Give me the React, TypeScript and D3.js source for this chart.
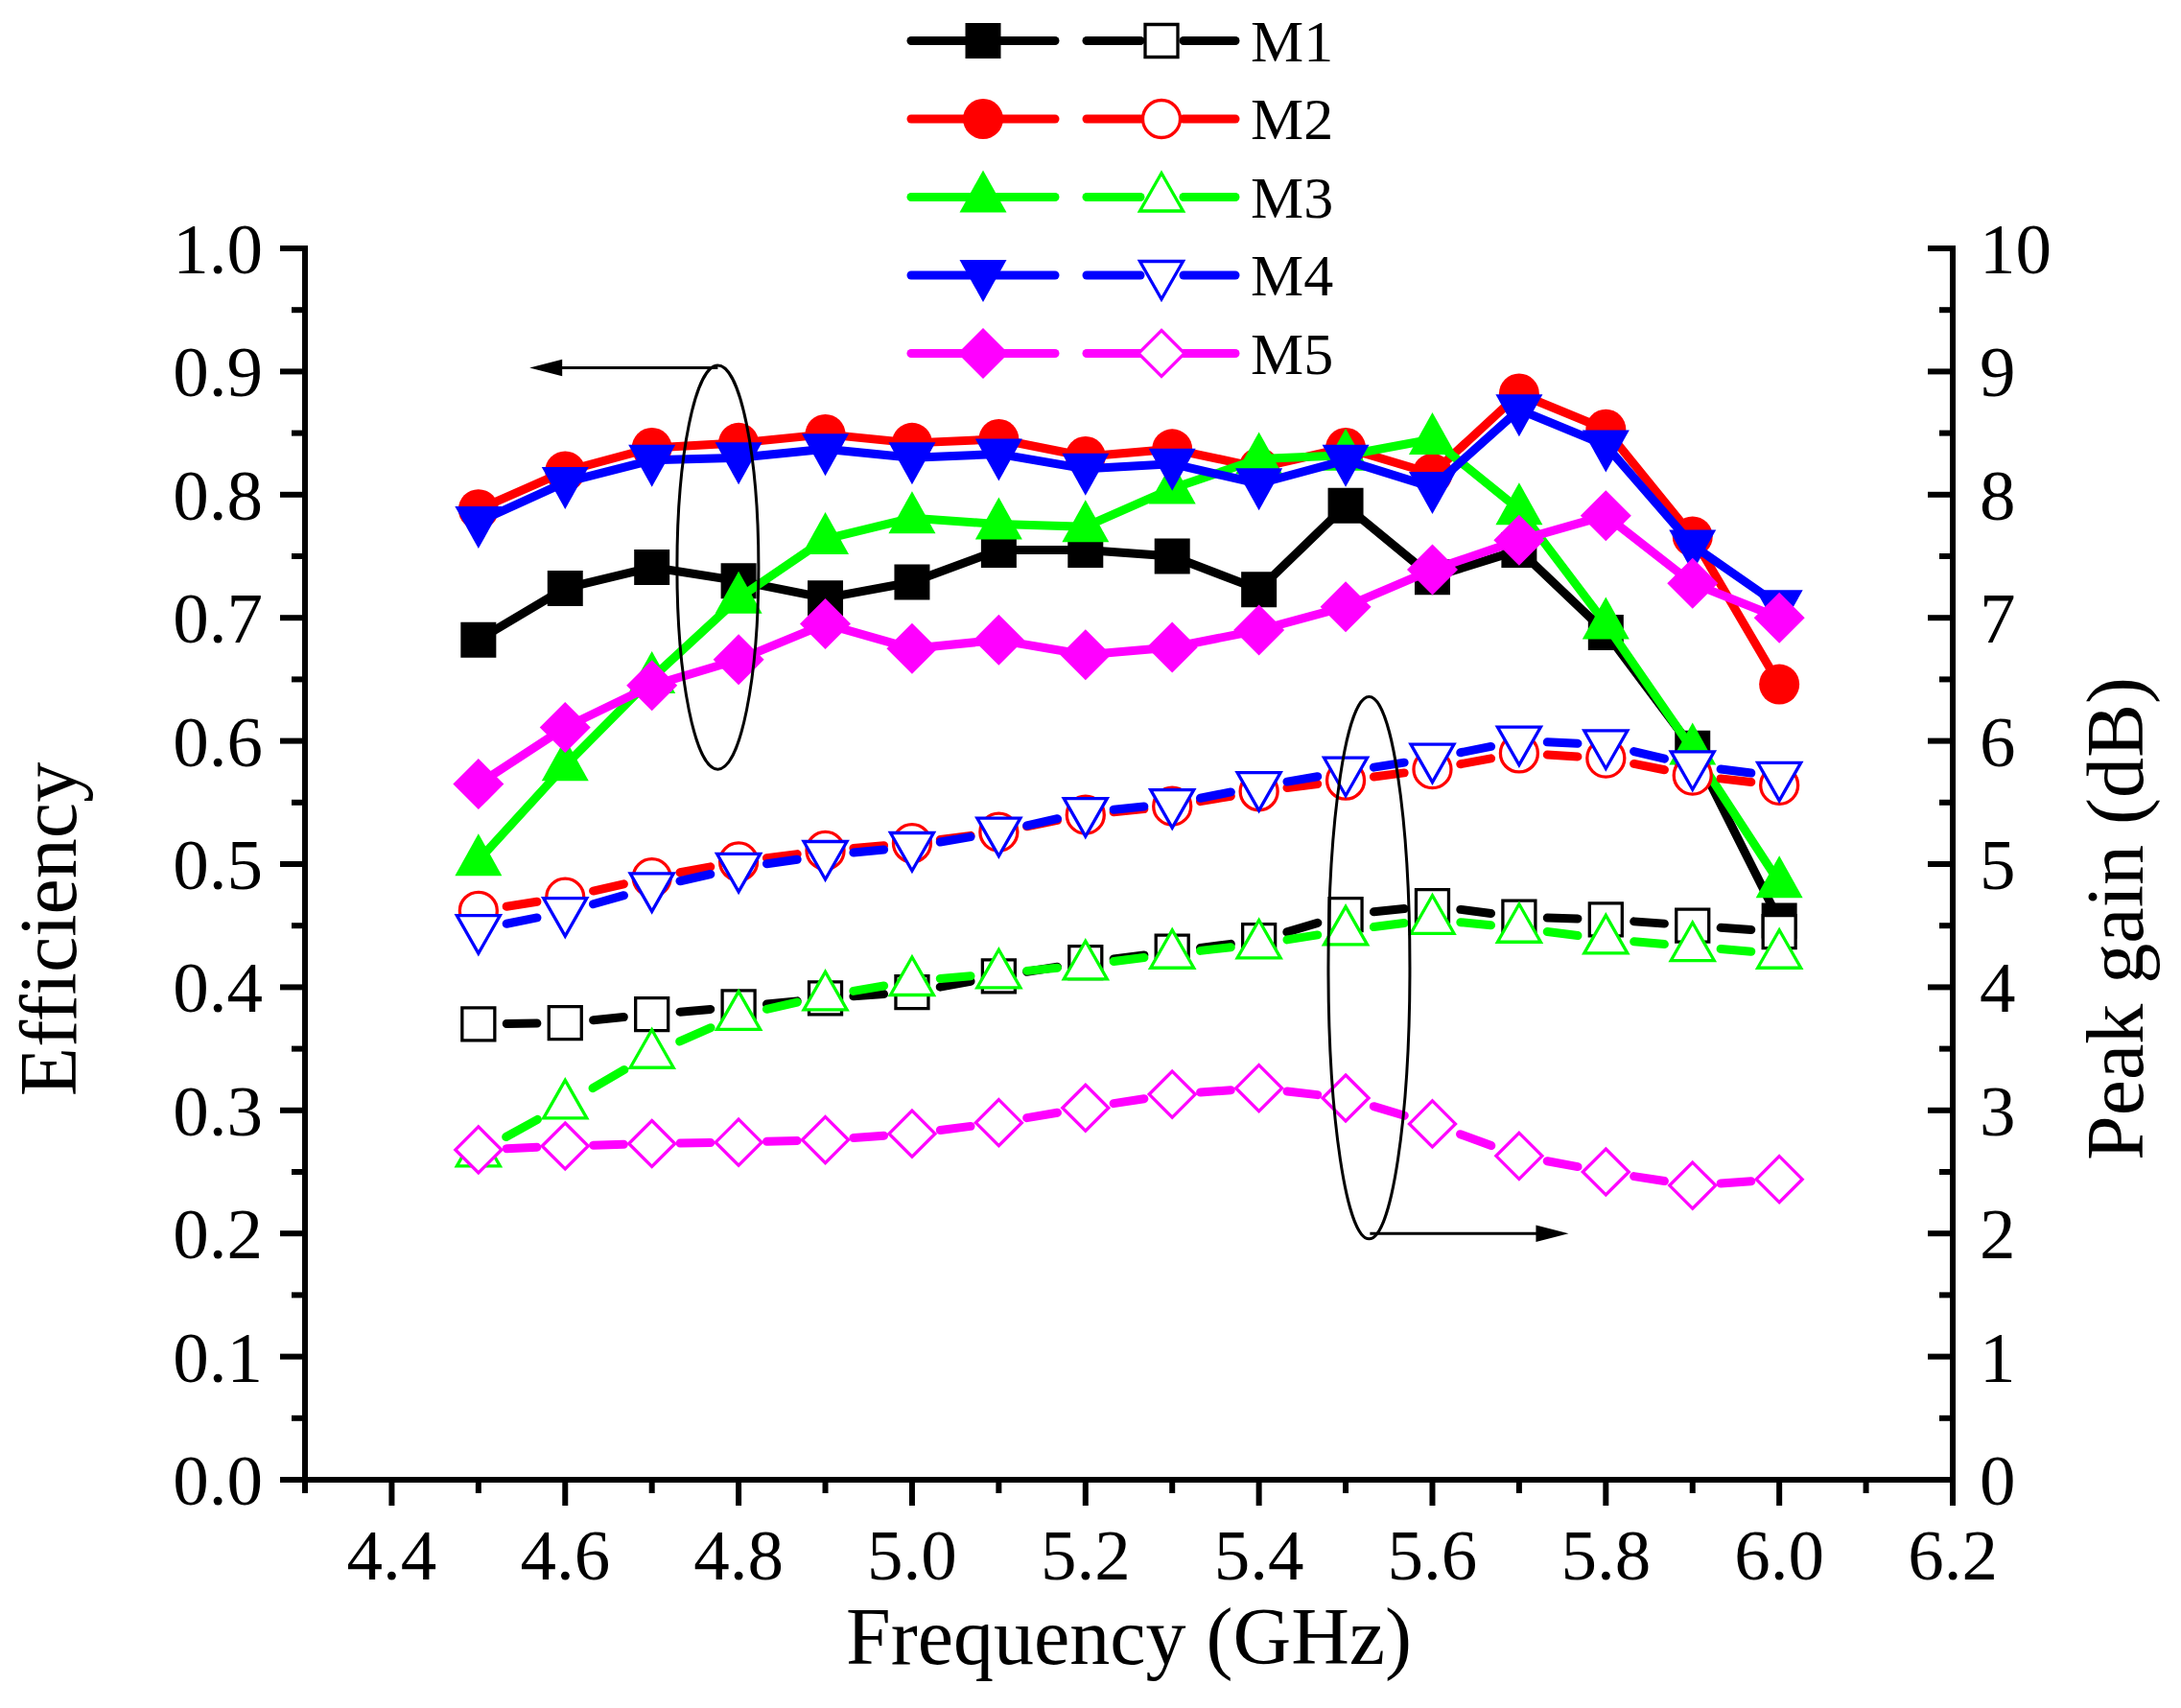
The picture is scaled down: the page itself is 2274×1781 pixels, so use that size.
import React from 'react';
import * as d3 from 'd3';

// frequency points (GHz)
const freq = [4.5, 4.6, 4.7, 4.8, 4.9, 5.0, 5.1, 5.2, 5.3, 5.4, 5.5, 5.6, 5.7, 5.8, 5.9, 6.0];

// efficiency (left axis)
const effM1 = [0.682, 0.724, 0.741, 0.730, 0.716, 0.729, 0.755, 0.755, 0.750, 0.723, 0.791, 0.733, 0.755, 0.688, 0.594, 0.454];
const effM2 = [0.788, 0.819, 0.838, 0.842, 0.849, 0.842, 0.845, 0.831, 0.837, 0.822, 0.838, 0.817, 0.882, 0.853, 0.766, 0.646];
const effM3 = [0.503, 0.580, 0.651, 0.716, 0.764, 0.781, 0.776, 0.774, 0.805, 0.829, 0.832, 0.845, 0.788, 0.695, 0.593, 0.485];
const effM4 = [0.778, 0.810, 0.828, 0.830, 0.837, 0.830, 0.833, 0.821, 0.825, 0.809, 0.828, 0.806, 0.869, 0.840, 0.759, 0.710];
const effM5 = [0.565, 0.611, 0.645, 0.666, 0.695, 0.675, 0.682, 0.670, 0.676, 0.690, 0.709, 0.739, 0.763, 0.783, 0.728, 0.700];

// peak gain in dB (right axis)
const gainM1 = [3.70, 3.71, 3.78, 3.84, 3.91, 3.96, 4.09, 4.20, 4.29, 4.38, 4.59, 4.66, 4.57, 4.55, 4.50, 4.45];
const gainM2 = [4.62, 4.73, 4.89, 5.02, 5.11, 5.17, 5.26, 5.40, 5.47, 5.59, 5.68, 5.77, 5.90, 5.86, 5.72, 5.64];
const gainM3 = [2.66, 3.05, 3.46, 3.77, 3.93, 4.05, 4.11, 4.18, 4.27, 4.35, 4.46, 4.55, 4.48, 4.39, 4.33, 4.27];
const gainM4 = [4.47, 4.61, 4.81, 4.97, 5.07, 5.14, 5.26, 5.42, 5.49, 5.63, 5.75, 5.86, 6.00, 5.97, 5.80, 5.71];
const gainM5 = [2.68, 2.71, 2.73, 2.74, 2.76, 2.81, 2.90, 3.02, 3.13, 3.18, 3.10, 2.89, 2.63, 2.50, 2.39, 2.44];

const seriesNames = ['M1', 'M2', 'M3', 'M4', 'M5'];
const effSeries = [effM1, effM2, effM3, effM4, effM5];
const gainSeries = [gainM1, gainM2, gainM3, gainM4, gainM5];

// axis ticks
const freqTicks = [4.4, 4.6, 4.8, 5.0, 5.2, 5.4, 5.6, 5.8, 6.0, 6.2];
const effTicks = [0, 0.1, 0.2, 0.3, 0.4, 0.5, 0.6, 0.7, 0.8, 0.9, 1.0];
const gainTicks = [0, 1, 2, 3, 4, 5, 6, 7, 8, 9, 10];

// annotation ellipses (data coords) and arrows
const effEllipse = { x: 4.776, y: 0.741, rx: 0.047, ry: 0.164 };
const effArrow = { x1: 4.776, x2: 4.559, y: 0.903 };
const gainEllipse = { x: 5.527, y: 4.158, rx: 0.047, ry: 2.202 };
const gainArrow = { x1: 5.528, x2: 5.757, y: 2.0 };

const COLORS = ['#000000', '#ff0000', '#00ff00', '#0000ff', '#ff00ff'];
const SHAPES = ['square', 'circle', 'up', 'down', 'diamond'];
const FONT = "'Liberation Serif', 'Times New Roman', serif";

const W = 2274;
const H = 1781;
const plot = { left: 318, right: 2036, top: 259, bottom: 1543 };

const xScale = d3.scaleLinear().domain([4.3, 6.2]).range([plot.left, plot.right]);
const yEff = d3.scaleLinear().domain([0, 1]).range([plot.bottom, plot.top]);
const yGain = d3.scaleLinear().domain([0, 10]).range([plot.bottom, plot.top]);

const markerPath = (shape: string, open: boolean) => {
  if (shape === 'square') {
    const s = open ? 17 : 18.5;
    return `M${-s},${-s}H${s}V${s}H${-s}Z`;
  }
  if (shape === 'up') {
    return open ? 'M0,-25L22.5,14.5L-22.5,14.5Z' : 'M0,-28L24.5,16L-24.5,16Z';
  }
  if (shape === 'down') {
    return open ? 'M-22.5,-14.5L22.5,-14.5L0,25Z' : 'M-24.5,-16L24.5,-16L0,28Z';
  }
  const h = open ? 24 : 26.5;
  return `M0,${-h}L${h},0L0,${h}L${-h},0Z`;
};

const Marker = ({ shape, x, y, color, open }: { shape: string; x: number; y: number; color: string; open: boolean }) => {
  if (shape === 'circle') {
    return (
      <circle
        cx={x}
        cy={y}
        r={open ? 19.5 : 21}
        fill={open ? '#ffffff' : color}
        stroke={open ? color : 'none'}
        strokeWidth={3.3}
      />
    );
  }
  return (
    <path
      transform={`translate(${x},${y})`}
      d={markerPath(shape, open)}
      fill={open ? '#ffffff' : color}
      stroke={open ? color : 'none'}
      strokeWidth={3.3}
    />
  );
};

// one centred dash per segment, like the original dashed style
const dashSegments = (ys: number[]) => {
  const pts = freq.map((f, i) => [xScale(f), yGain(ys[i])] as [number, number]);
  return d3.pairs(pts).map(([a, b]) => {
    const dx = b[0] - a[0];
    const dy = b[1] - a[1];
    const len = Math.hypot(dx, dy);
    const core = Math.max(0.45 * len - 9, 2);
    const mx = (a[0] + b[0]) / 2;
    const my = (a[1] + b[1]) / 2;
    const ux = dx / len;
    const uy = dy / len;
    return { x1: mx - ux * core / 2, y1: my - uy * core / 2, x2: mx + ux * core / 2, y2: my + uy * core / 2 };
  });
};

const App: React.FC = () => {
  const effLine = d3.line<number>()
    .x((_, i) => xScale(freq[i]))
    .y(d => yEff(d));

  const effMinor = d3.range(0.05, 1, 0.1);
  const gainMinor = d3.range(0.5, 10, 1);
  const freqMinor = d3.range(4.3, 6.15, 0.2);
  const fmt1 = d3.format('.1f');

  const legendTop = 42.5;
  const legendStep = 81.5;

  const arrowHead = (x: number, y: number, dir: number) =>
    `M${x},${y}L${x - dir * 34},${y - 8.7}L${x - dir * 34},${y + 8.7}Z`;

  return (
    <svg
      width={W}
      height={H}
      viewBox={`0 0 ${W} ${H}`}
      style={{ position: 'absolute', left: 0, top: 0, background: '#ffffff' }}
      fontFamily={FONT}
    >
      <rect x={0} y={0} width={W} height={H} fill="#ffffff" />

      {/* efficiency curves */}
      {effSeries.map((vals, s) => (
        <g key={`eff-${s}`}>
          <path
            d={effLine(vals) || ''}
            fill="none"
            stroke={COLORS[s]}
            strokeWidth={9}
            strokeLinejoin="round"
            strokeLinecap="round"
          />
          {vals.map((v, i) => (
            <Marker key={i} shape={SHAPES[s]} x={xScale(freq[i])} y={yEff(v)} color={COLORS[s]} open={false} />
          ))}
        </g>
      ))}

      {/* peak gain curves */}
      {gainSeries.map((vals, s) => (
        <g key={`gain-${s}`}>
          {dashSegments(vals).map((seg, i) => (
            <line
              key={i}
              x1={seg.x1}
              y1={seg.y1}
              x2={seg.x2}
              y2={seg.y2}
              stroke={COLORS[s]}
              strokeWidth={9}
              strokeLinecap="round"
            />
          ))}
          {vals.map((v, i) => (
            <Marker key={i} shape={SHAPES[s]} x={xScale(freq[i])} y={yGain(v)} color={COLORS[s]} open={true} />
          ))}
        </g>
      ))}

      {/* annotations */}
      <ellipse
        cx={xScale(effEllipse.x)}
        cy={yEff(effEllipse.y)}
        rx={xScale(effEllipse.x + effEllipse.rx) - xScale(effEllipse.x)}
        ry={yEff(effEllipse.y) - yEff(effEllipse.y + effEllipse.ry)}
        fill="none"
        stroke="#000"
        strokeWidth={3}
      />
      <line x1={xScale(effArrow.x1)} x2={xScale(effArrow.x2) + 20} y1={yEff(effArrow.y)} y2={yEff(effArrow.y)} stroke="#000" strokeWidth={3} />
      <path d={arrowHead(xScale(effArrow.x2), yEff(effArrow.y), -1)} fill="#000" />

      <ellipse
        cx={xScale(gainEllipse.x)}
        cy={yGain(gainEllipse.y)}
        rx={xScale(gainEllipse.x + gainEllipse.rx) - xScale(gainEllipse.x)}
        ry={yGain(gainEllipse.y) - yGain(gainEllipse.y + gainEllipse.ry)}
        fill="none"
        stroke="#000"
        strokeWidth={3}
      />
      <line x1={xScale(gainArrow.x1)} x2={xScale(gainArrow.x2) - 20} y1={yGain(gainArrow.y)} y2={yGain(gainArrow.y)} stroke="#000" strokeWidth={3} />
      <path d={arrowHead(xScale(gainArrow.x2), yGain(gainArrow.y), 1)} fill="#000" />

      {/* axes */}
      <g stroke="#000" strokeWidth={6}>
        <line x1={plot.left} x2={plot.left} y1={plot.top - 3} y2={plot.bottom + 3} />
        <line x1={plot.right} x2={plot.right} y1={plot.top - 3} y2={plot.bottom + 3} />
        <line x1={plot.left - 3} x2={plot.right + 3} y1={plot.bottom} y2={plot.bottom} />
        {effTicks.map(t => (
          <line key={`el${t}`} x1={plot.left} x2={plot.left - 26} y1={yEff(t)} y2={yEff(t)} />
        ))}
        {effMinor.map(t => (
          <line key={`em${t}`} x1={plot.left} x2={plot.left - 14} y1={yEff(t)} y2={yEff(t)} />
        ))}
        {gainTicks.map(t => (
          <line key={`gl${t}`} x1={plot.right} x2={plot.right - 26} y1={yGain(t)} y2={yGain(t)} />
        ))}
        {gainMinor.map(t => (
          <line key={`gm${t}`} x1={plot.right} x2={plot.right - 14} y1={yGain(t)} y2={yGain(t)} />
        ))}
        {freqTicks.map(t => (
          <line key={`fl${t}`} x1={xScale(t)} x2={xScale(t)} y1={plot.bottom} y2={plot.bottom + 27} />
        ))}
        {freqMinor.map(t => (
          <line key={`fm${t}`} x1={xScale(t)} x2={xScale(t)} y1={plot.bottom} y2={plot.bottom + 14} />
        ))}
      </g>

      {/* tick labels */}
      <g fontSize={75} fill="#000">
        {effTicks.map(t => (
          <text key={`elt${t}`} x={plot.left - 44} y={yEff(t) + 26} textAnchor="end">{fmt1(t)}</text>
        ))}
        {gainTicks.map(t => (
          <text key={`glt${t}`} x={plot.right + 28} y={yGain(t) + 26} textAnchor="start">{t}</text>
        ))}
        {freqTicks.map(t => (
          <text key={`flt${t}`} x={xScale(t)} y={1647} textAnchor="middle">{fmt1(t)}</text>
        ))}
      </g>

      {/* axis titles */}
      <g fontSize={84} fill="#000">
        <text transform="translate(79,969) rotate(-90)" textAnchor="middle">Efficiency</text>
        <text transform="translate(2234,958) rotate(-90)" textAnchor="middle">Peak gain (dB)</text>
        <text x={(plot.left + plot.right) / 2} y={1735} textAnchor="middle">Frequency (GHz)</text>
      </g>

      {/* legend */}
      {seriesNames.map((name, s) => {
        const y = legendTop + s * legendStep;
        return (
          <g key={`leg-${s}`}>
            <line x1={950} x2={1100} y1={y} y2={y} stroke={COLORS[s]} strokeWidth={9} strokeLinecap="round" />
            <Marker shape={SHAPES[s]} x={1025} y={y} color={COLORS[s]} open={false} />
            <line x1={1133} x2={1189} y1={y} y2={y} stroke={COLORS[s]} strokeWidth={9} strokeLinecap="round" />
            <line x1={1234} x2={1288} y1={y} y2={y} stroke={COLORS[s]} strokeWidth={9} strokeLinecap="round" />
            <Marker shape={SHAPES[s]} x={1211} y={y} color={COLORS[s]} open={true} />
            <text x={1304} y={y + 21} fontSize={62} fill="#000">{name}</text>
          </g>
        );
      })}
    </svg>
  );
};

export default App;
